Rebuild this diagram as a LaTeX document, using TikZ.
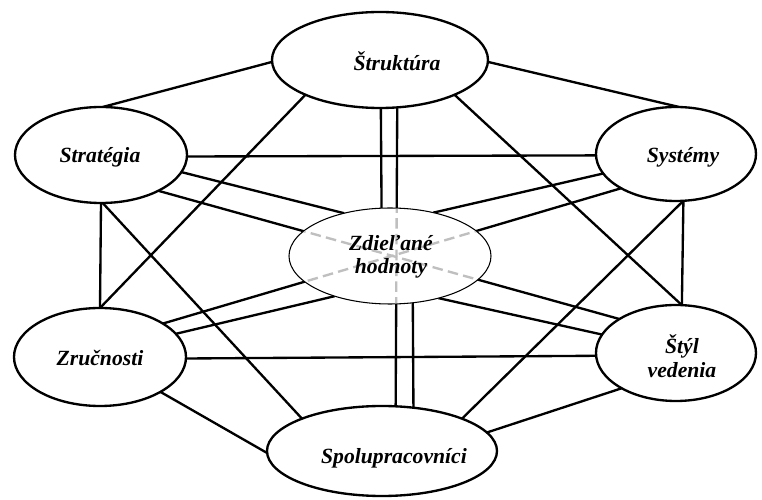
\documentclass[tikz,border=0pt]{standalone}
\usepackage{fontspec}
\setmainfont{Liberation Serif}
\usetikzlibrary{shapes.geometric,backgrounds}
\begin{document}
\begin{tikzpicture}[x=0.3mm,y=-0.3mm,
  elem/.style={ellipse,draw,line width=2pt,fill=white,inner sep=0pt,outer sep=0pt},
  core/.style={ellipse,draw,line width=0.9pt,fill=white,inner sep=0pt,outer sep=0pt,
               minimum width=60.6mm,minimum height=28.8mm},
  lbl/.style={font=\bfseries\itshape\fontsize{18.5}{20}\selectfont,align=center,inner sep=0pt},
  link/.style={line width=2pt},
  hidden/.style={draw=gray!50,line width=2pt,dash pattern=on 9pt off 4.5pt}]
\useasboundingbox (0,0) rectangle (762,500);

% the six outer elements
\node[elem,minimum width=64.8mm,minimum height=28.8mm] (struk) at (380,60) {};
\node[elem,minimum width=51.6mm,minimum height=28.8mm] (strat) at (101,155) {};
\node[elem,minimum width=48mm,minimum height=28.2mm] (sys) at (676,154) {};
\node[elem,minimum width=51.6mm,minimum height=29.4mm] (zruc) at (100,357) {};
\node[elem,minimum width=48mm,minimum height=28.8mm] (styl) at (676,353) {};
\node[elem,minimum width=69mm,minimum height=27mm] (spolu) at (382,451) {};

% connections, kept behind the ellipses
\begin{pgfonlayer}{background}
\draw[link] (struk.181) -- (strat.88);
\draw[link] (struk.-1) -- (sys.86);
\draw[link] (struk.205.6) -- (zruc.90);
\draw[link] (struk.-25.6) -- (styl.83);
\draw[link] (strat.-1) -- (sys.181);
\draw[link] (strat.-90) -- (zruc.90);
\draw[link] (strat.-88) -- (spolu.158.6);
\draw[link] (sys.-81) -- (styl.83);
\draw[link] (sys.-81) -- (spolu.22);
\draw[link] (zruc.-1) -- (styl.182);
\draw[link] (zruc.-30) -- (spolu.181);
\draw[link] (styl.213.5) -- (spolu.10);
% links that cross the centre
\draw[link] (struk.-70.5) -- (spolu.73.5);
\draw[link] (strat.-32.8) -- (styl.149.5);
\draw[link] (sys.212.7) -- (zruc.28.4);
\end{pgfonlayer}

% shared values in the centre
\node[core] (center) at (390,256) {};
\begin{pgfonlayer}{background}
\draw[link] (strat.-12.5) -- (center.137);
\draw[link] (sys.195) -- (center.45);
\draw[link] (zruc.17) -- (center.216);
\draw[link] (center.-41) -- (styl.166);
\draw[link] (center.100.6) -- (struk.-89);
\draw[link] (center.-64.4) -- (spolu.54.8);
\end{pgfonlayer}

% crossing links shown dashed inside the centre
\begin{scope}
\clip (center.center) ellipse [x radius=30.1mm, y radius=14.2mm];
\draw[hidden] (struk.-70.5) -- (spolu.73.5);
\draw[hidden] (strat.-32.8) -- (styl.149.5);
\draw[hidden] (sys.212.7) -- (zruc.28.4);
\end{scope}

% labels
\node[lbl] (struklbl) at (397,61) {Štruktúra};
\node[lbl] (stratlbl) at (100,157) {Stratégia};
\node[lbl] (syslbl) at (683,157) {Systémy};
\node[lbl] (centerlbl) at (391,257) {Zdieľané\\hodnoty};
\node[lbl] (zruclbl) at (100,358) {Zručnosti};
\node[lbl] (styllbl) at (682,356) {Štýl\\vedenia};
\node[lbl] (spolulbl) at (394,458) {Spolupracovníci};
\end{tikzpicture}
\end{document}
